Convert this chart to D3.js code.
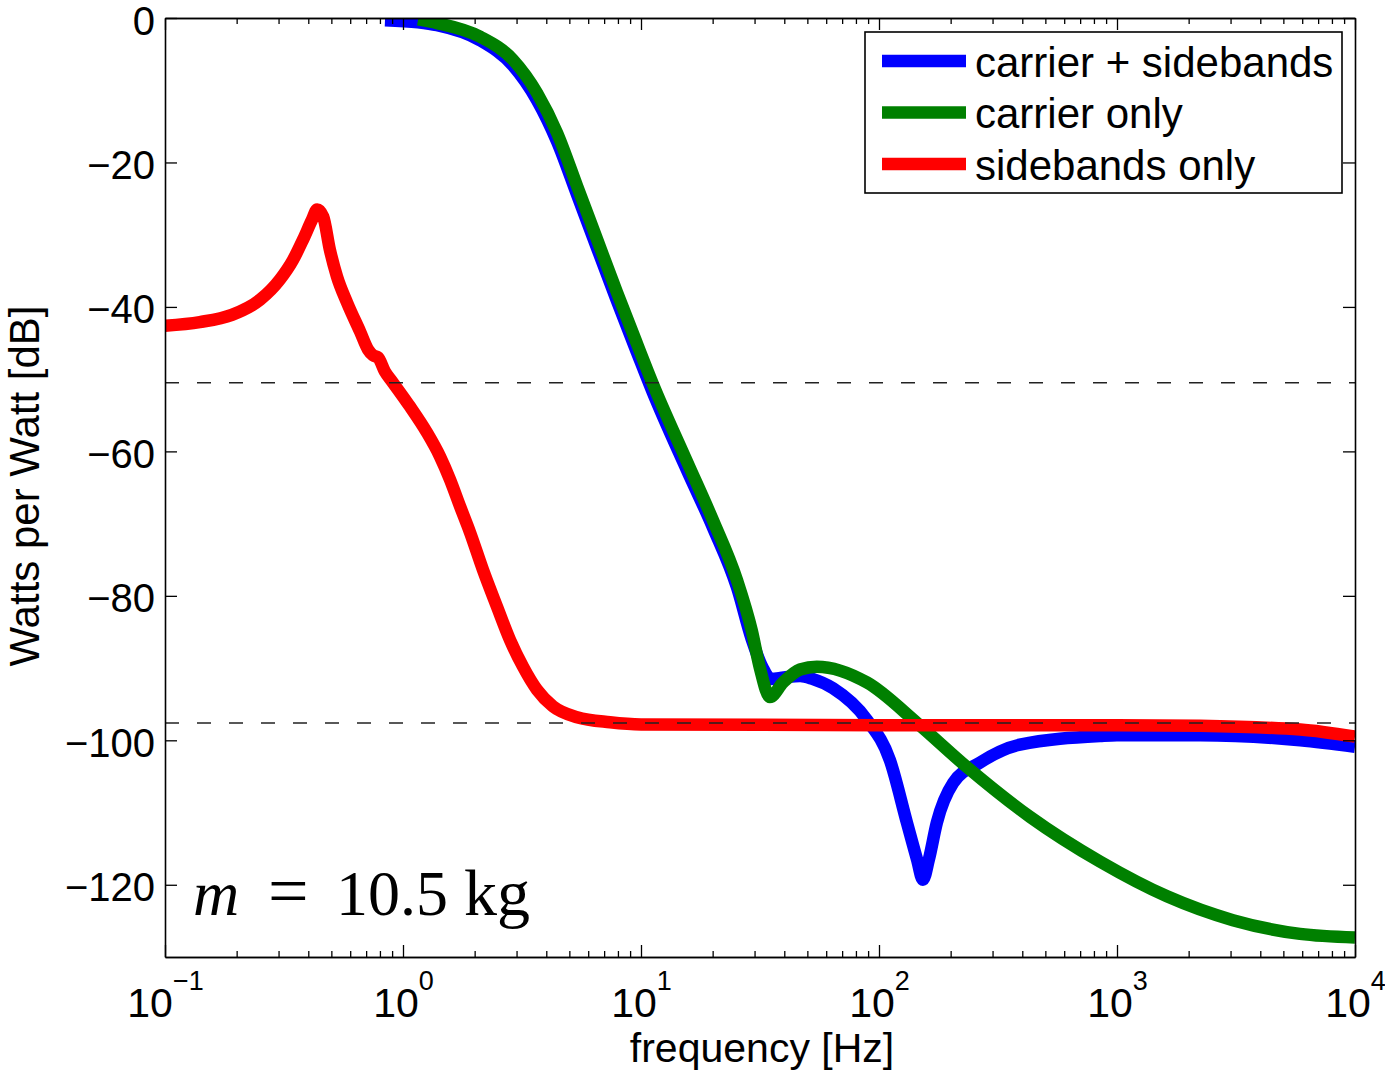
<!DOCTYPE html>
<html>
<head>
<meta charset="utf-8">
<script src="https://cdn.jsdelivr.net/npm/d3@7/dist/d3.min.js"></script>
<style>
  html, body { margin: 0; padding: 0; background: #fff; }
  svg { display: block; }
</style>
</head>
<body>
<script>
// ---------------- data ----------------
const blueFreq = [0.84, 1.157, 1.39, 2.11, 2.90, 3.66, 4.44, 5.38, 6.53, 7.93, 9.62, 11.2, 15.6, 20.1, 25.3, 29.2, 32.4, 35.2, 39.8, 46.6, 52.5, 64.1, 89.1, 111, 131, 144.5, 153, 162, 175, 205, 265, 391, 850, 1000, 2234, 5890, 10000];
const blueDb   = [-0.3, -0.6, -1.0, -3.1, -6.6, -11.4, -17.1, -24.4, -31.8, -39.2, -46.3, -51.8, -62.6, -70.6, -78.8, -86.0, -89.9, -91.5, -91.3, -91.1, -91.5, -92.8, -97.2, -102.7, -111.4, -116.5, -119.3, -116.5, -111.4, -105.9, -103.1, -100.6, -99.4, -99.3, -99.3, -100.0, -100.9];

const greenFreq = [1.157, 1.39, 2.11, 2.90, 3.66, 4.44, 5.38, 6.53, 7.93, 9.62, 11.2, 15.6, 20.1, 25.3, 29.2, 31.6, 34.8, 39.5, 46.6, 54.8, 89.1, 144.5, 234, 431, 849, 1622, 3069, 5875, 10000];
const greenDb   = [-0.2, -0.7, -2.6, -5.8, -10.4, -15.9, -23.2, -30.6, -38.0, -45.1, -50.6, -61.4, -69.6, -77.8, -84.8, -90.0, -94.0, -92.0, -90.2, -89.8, -92.0, -97.6, -103.7, -110.6, -116.8, -121.6, -124.9, -126.8, -127.3];

const redFreq = [0.1, 0.140, 0.191, 0.251, 0.304, 0.345, 0.380, 0.415, 0.436, 0.462, 0.493, 0.528, 0.582, 0.660, 0.713, 0.749, 0.786, 0.838, 0.908, 1.07, 1.261, 1.43, 1.576, 1.736, 1.912, 2.168, 2.483, 2.816, 3.193, 3.656, 4.267, 5.383, 7.41, 10, 100, 1000, 2234, 5890, 10000];
const redDb   = [-42.6, -42.1, -41.1, -39.0, -36.2, -33.5, -30.7, -27.9, -26.5, -27.5, -32.1, -35.8, -39.4, -43.4, -45.9, -46.7, -47.0, -48.9, -50.5, -53.8, -57.4, -60.7, -63.9, -67.6, -71.2, -76.4, -81.5, -86.1, -89.8, -93.0, -95.3, -96.8, -97.5, -97.8, -97.9, -97.9, -98.0, -98.5, -99.5];

const seriesNames  = ["carrier + sidebands", "carrier only", "sidebands only"];
const seriesColors = ["#0000ff", "#008000", "#ff0000"];

const refLevels = [-50.5, -97.6];           // dashed horizontal reference lines (dB)
const yTicks = [0, -20, -40, -60, -80, -100, -120];
const xDecades = [0.1, 1, 10, 100, 1000, 10000];
const xExponents = ["\u22121", "0", "1", "2", "3", "4"];
const xLabel = "frequency [Hz]";
const yLabel = "Watts per Watt [dB]";
const annotationParts = ["m", "=", "10.5", "kg"];

// ---------------- layout ----------------
const W = 1385, H = 1073;
const L = 165, T = 18, R = 1355, B = 957;
const SANS = "'Liberation Sans', Arial, Helvetica, sans-serif";
const SERIF = "'Liberation Serif', 'DejaVu Serif', 'Times New Roman', serif";

const svg = d3.select("body").append("svg").attr("width", W).attr("height", H);
svg.append("rect").attr("width", W).attr("height", H).attr("fill", "#fff");

const x = d3.scaleLog().domain([0.1, 10000]).range([L, R]);
const y = d3.scaleLinear().domain([-130, 0]).range([B, T]);

svg.append("defs").append("clipPath").attr("id", "clip")
  .append("rect").attr("x", L).attr("y", T).attr("width", R - L).attr("height", B - T);

const plot = svg.append("g").attr("clip-path", "url(#clip)");

const line = d3.line().x(d => x(d[0])).y(d => y(d[1])).curve(d3.curveMonotoneX);

const series = [
  d3.zip(blueFreq, blueDb),
  d3.zip(greenFreq, greenDb),
  d3.zip(redFreq, redDb)
];
series.forEach((s, i) => {
  plot.append("path").datum(s)
    .attr("d", line)
    .attr("fill", "none")
    .attr("stroke", seriesColors[i])
    .attr("stroke-width", 12.5)
    .attr("stroke-linejoin", "round")
    .attr("stroke-linecap", "butt");
});

// dashed reference lines
plot.selectAll("line.ref").data(refLevels).enter().append("line")
  .attr("class", "ref")
  .attr("x1", L).attr("x2", R)
  .attr("y1", d => y(d)).attr("y2", d => y(d))
  .attr("stroke", "#222").attr("stroke-width", 1.4)
  .attr("stroke-dasharray", "14,18");

// ---------------- axes ----------------
const minorTicks = [];
for (let e = -1; e < 4; e++) for (let k = 2; k <= 9; k++) minorTicks.push(k * Math.pow(10, e));

function styleAxis(g) {
  g.select(".domain").attr("stroke", "#000").attr("stroke-width", 1.6);
  g.selectAll(".tick line").attr("stroke", "#000").attr("stroke-width", 1.3);
}

// bottom
const gBottom = svg.append("g").attr("transform", `translate(0,${B})`)
  .call(d3.axisBottom(x).tickValues(xDecades).tickSize(-12).tickSizeOuter(0).tickPadding(0));
styleAxis(gBottom);
gBottom.selectAll(".tick text").each(function(d, i) {
  const t = d3.select(this);
  t.text(null).attr("y", 60).attr("dy", 0)
    .attr("text-anchor", "middle").attr("fill", "#000")
    .style("font-family", SANS).style("font-size", "41px");
  t.append("tspan").text("10");
  t.append("tspan").attr("dy", -27).style("font-size", "27px").text(xExponents[i]);
});
const gBottomMinor = svg.append("g").attr("transform", `translate(0,${B})`)
  .call(d3.axisBottom(x).tickValues(minorTicks).tickSize(-6).tickSizeOuter(0).tickFormat(""));
styleAxis(gBottomMinor);

// top
const gTop = svg.append("g").attr("transform", `translate(0,${T})`)
  .call(d3.axisTop(x).tickValues(xDecades).tickSize(-12).tickSizeOuter(0).tickFormat(""));
styleAxis(gTop);
const gTopMinor = svg.append("g").attr("transform", `translate(0,${T})`)
  .call(d3.axisTop(x).tickValues(minorTicks).tickSize(-6).tickSizeOuter(0).tickFormat(""));
styleAxis(gTopMinor);

// left
const gLeft = svg.append("g").attr("transform", `translate(${L},0)`)
  .call(d3.axisLeft(y).tickValues(yTicks).tickSize(-12).tickSizeOuter(0).tickPadding(10));
styleAxis(gLeft);
gLeft.selectAll(".tick text")
  .attr("dy", "0.4em").attr("fill", "#000")
  .style("font-family", SANS).style("font-size", "40px");

// right
const gRight = svg.append("g").attr("transform", `translate(${R},0)`)
  .call(d3.axisRight(y).tickValues(yTicks).tickSize(-12).tickSizeOuter(0).tickFormat(""));
styleAxis(gRight);

// axis labels
svg.append("text").attr("x", (L + R) / 2 + 2).attr("y", 1062)
  .attr("text-anchor", "middle")
  .style("font-family", SANS).style("font-size", "41px").text(xLabel);
svg.append("text").attr("transform", `translate(39,${486}) rotate(-90)`)
  .attr("text-anchor", "middle")
  .style("font-family", SANS).style("font-size", "42px").text(yLabel);

// annotation (LaTeX style: italic variable, upright rest)
const annX = [193, 268, 336, 464];
const annSize = [64, 72, 64, 66];
const ann = svg.append("text").attr("y", 915)
  .style("font-family", SERIF).style("font-size", "64px");
annotationParts.forEach((p, i) => {
  ann.append("tspan").attr("x", annX[i])
    .style("font-style", i === 0 ? "italic" : "normal")
    .style("font-size", annSize[i] + "px")
    .text(p);
});

// ---------------- legend ----------------
const lg = svg.append("g");
lg.append("rect").attr("x", 865).attr("y", 32).attr("width", 477).attr("height", 161)
  .attr("fill", "#fff").attr("stroke", "#000").attr("stroke-width", 1.6);
seriesNames.forEach((name, i) => {
  const cy = 61 + i * 51.5;
  lg.append("line").attr("x1", 882).attr("x2", 966).attr("y1", cy).attr("y2", cy)
    .attr("stroke", seriesColors[i]).attr("stroke-width", 12.5);
  lg.append("text").attr("x", 975).attr("y", cy + 15.5)
    .style("font-family", SANS).style("font-size", "42px").text(name);
});
</script>
</body>
</html>
